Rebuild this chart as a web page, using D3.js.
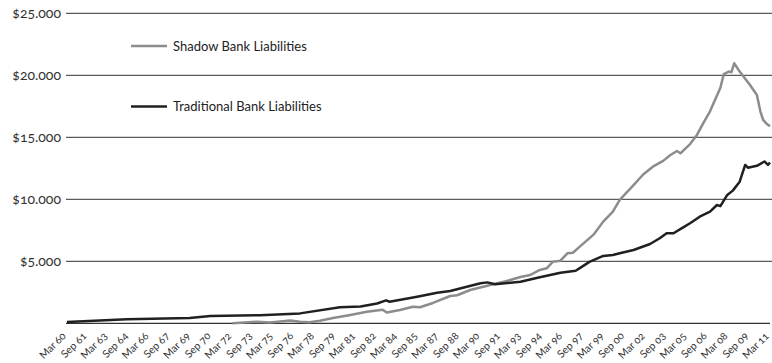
<!DOCTYPE html>
<html>
<head>
<meta charset="utf-8">
<script src="https://cdn.jsdelivr.net/npm/d3@7"></script>
<style>
  body { margin: 0; background: #fff; }
  svg text { font-family: "Lato", "Open Sans", sans-serif; font-feature-settings: "onum"; }
</style>
</head>
<body>
<div id="chart"></div>
<script>
// quarters expressed as year + 0 (Mar) ... year + 0.5 (Sep)
const tradYears = [1960, 1964.35, 1968.9, 1970.4, 1974.0, 1976.9, 1979.8, 1981.3, 1982.5, 1983.15, 1983.4,
    1985.4, 1986.85, 1987.8, 1990.0, 1990.5, 1991.05, 1992.9, 1994.3, 1995.8, 1996.9, 1997.2, 1997.9,
    1998.9, 1999.6, 2000.1, 2001.1, 2002.3, 2003.0, 2003.5, 2004.0, 2004.7, 2005.2, 2005.9, 2006.65,
    2007.15, 2007.4, 2007.9, 2008.3, 2008.8, 2009.2, 2009.4, 2010.05, 2010.6, 2010.85, 2011.0];
const tradValues = [100, 320, 430, 590, 650, 800, 1300, 1350, 1600, 1850, 1740,
    2145, 2470, 2600, 3225, 3300, 3150, 3355, 3710, 4080, 4240, 4450, 4950,
    5430, 5510, 5650, 5910, 6395, 6855, 7260, 7260, 7740, 8065, 8600, 9000,
    9540, 9450, 10350, 10700, 11420, 12770, 12550, 12700, 13050, 12770, 12950];

const shadowYears = [1972.0, 1973.8, 1974.7, 1976.2, 1976.9, 1977.6, 1978.35, 1979.3, 1980.55, 1981.75,
    1982.9, 1983.2, 1984.15, 1985.1, 1985.6, 1986.55, 1987.8, 1988.3, 1989.25, 1990.2, 1990.7, 1991.4,
    1991.9, 1992.9, 1993.6, 1994.3, 1994.8, 1995.25, 1995.8, 1996.3, 1996.7, 1997.2, 1998.2, 1998.9,
    1999.6, 2000.1, 2001.1, 2001.8, 2002.5, 2003.25, 2003.75, 2004.25, 2004.5, 2005.2, 2005.7, 2006.15,
    2006.65, 2007.4, 2007.65, 2008.0, 2008.2, 2008.4, 2008.8, 2009.55, 2010.05, 2010.3, 2010.5, 2010.8, 2011.0];
const shadowValues = [0, 130, 60, 230, 130, 80, 210, 420, 670, 935,
    1100, 870, 1070, 1340, 1290, 1640, 2200, 2260, 2685, 2950, 3090, 3275,
    3410, 3730, 3895, 4300, 4435, 4970, 5050, 5645, 5690, 6180, 7150, 8200,
    9000, 9950, 11150, 12000, 12630, 13100, 13550, 13900, 13710, 14450, 15190, 16130,
    17100, 19000, 20100, 20300, 20250, 20970, 20300, 19220, 18410, 17100, 16400, 16050, 15900];

const tickLabels = ["Mar 60", "Sep 61", "Mar 63", "Sep 64", "Mar 66", "Sep 67", "Mar 69", "Sep 70",
    "Mar 72", "Sep 73", "Mar 75", "Sep 76", "Mar 78", "Sep 79", "Mar 81", "Sep 82", "Mar 84", "Sep 85",
    "Mar 87", "Sep 88", "Mar 90", "Sep 91", "Mar 93", "Sep 94", "Mar 96", "Sep 97", "Mar 99", "Sep 00",
    "Mar 02", "Sep 03", "Mar 05", "Sep 06", "Mar 08", "Sep 09", "Mar 11"];
const yTicks = [5000, 10000, 15000, 20000, 25000];

const seriesNames = ["Shadow Bank Liabilities", "Traditional Bank Liabilities"];
const seriesColors = ["#8c8c8c", "#231f20"];

const width = 772;
const height = 363;

// label "Mar 60" -> 1960, "Sep 61" -> 1961.5
function labelYear(s) {
    let yy = +s.slice(4);
    let year = yy < 50 ? 2000 + yy : 1900 + yy;
    return year + (s.startsWith("Sep") ? 0.5 : 0);
}

let xScale = d3.scaleLinear()
    .domain([1960, 2011])
    .range([67, 770]);

let yScale = d3.scaleLinear()
    .domain([0, 25000])
    .range([323.3, 13.3]);

let locale = d3.formatLocale({decimal: ",", thousands: ".", grouping: [3], currency: ["$", ""]});
let fmt = locale.format("$,");

let svg = d3.select("#chart")
    .append("svg")
    .attr("width", width)
    .attr("height", height);

// grid lines
svg.append("g")
    .attr("class", "grid")
    .selectAll("line")
    .data(yTicks)
    .enter()
    .append("line")
    .attr("x1", 66)
    .attr("x2", width)
    .attr("y1", d => yScale(d))
    .attr("y2", d => yScale(d))
    .attr("stroke", "#333")
    .attr("stroke-width", 1);

svg.append("g")
    .selectAll("text")
    .data(yTicks)
    .enter()
    .append("text")
    .attr("x", 61)
    .attr("y", d => yScale(d))
    .attr("dy", "0.35em")
    .attr("text-anchor", "end")
    .attr("fill", "#333")
    .style("font-size", "14px")
    .text(d => fmt(d));

// baseline
svg.append("line")
    .attr("x1", 66)
    .attr("x2", width - 2)
    .attr("y1", yScale(0))
    .attr("y2", yScale(0))
    .attr("stroke", "#333")
    .attr("stroke-width", 1.3);

// x labels
svg.append("g")
    .selectAll("text")
    .data(tickLabels)
    .enter()
    .append("text")
    .attr("transform", d => "translate(" + (xScale(labelYear(d)) - 3) + "," + 334 + ") rotate(-45)")
    .attr("text-anchor", "end")
    .attr("dy", "0.35em")
    .attr("fill", "#333")
    .style("font-size", "10.5px")
    .text(d => d);

let line = d3.line()
    .x(d => xScale(d[0]))
    .y(d => yScale(d[1]));

let shadow = d3.zip(shadowYears, shadowValues);
let trad = d3.zip(tradYears, tradValues);

svg.append("path")
    .datum(shadow)
    .attr("fill", "none")
    .attr("stroke", seriesColors[0])
    .attr("stroke-width", 2.5)
    .attr("stroke-linejoin", "round")
    .attr("d", line);

svg.append("path")
    .datum(trad)
    .attr("fill", "none")
    .attr("stroke", seriesColors[1])
    .attr("stroke-width", 2.5)
    .attr("stroke-linejoin", "round")
    .attr("d", line);

// legend
let legendY = [46, 106.5];
let legend = svg.append("g")
    .selectAll("g")
    .data(seriesNames)
    .enter()
    .append("g")
    .attr("transform", (d, i) => "translate(131," + legendY[i] + ")");

legend.append("line")
    .attr("x1", 0)
    .attr("x2", 36)
    .attr("stroke", (d, i) => seriesColors[i])
    .attr("stroke-width", 2.5);

legend.append("text")
    .attr("x", 42)
    .attr("dy", "0.35em")
    .attr("fill", "#222")
    .style("font-size", "13px")
    .text(d => d);
</script>
</body>
</html>
